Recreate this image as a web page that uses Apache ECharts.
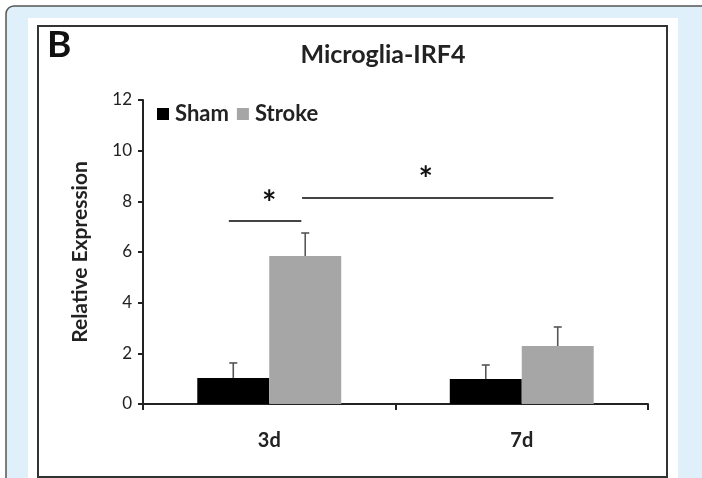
<!DOCTYPE html>
<html>
<head>
<meta charset="utf-8">
<script src="https://cdn.jsdelivr.net/npm/echarts@6/dist/echarts.min.js"></script>
<style>
  html, body { margin: 0; padding: 0; background: #fff; }
  #chart { width: 702px; height: 478px; }
</style>
</head>
<body>
<div id="chart"></div>
<script>
const categories = ["3d", "7d"];
const shamValues = [1.03, 0.99];
const shamErrTop = [1.62, 1.54];
const strokeValues = [5.84, 2.29];
const strokeErrTop = [6.75, 3.04];
const yTicks = { min: 0, max: 12, interval: 2 };
// significance brackets: [from, to, height] in category units (0 = 3d, 1 = 7d)
const sigLines = [
  [-0.16, 0.127, 7.22],
  [0.13, 1.125, 8.13],
];
const sigStars = [
  [0, 7.9, "*"],
  [0.62, 8.85, "*"],
];

const BAR_PCT = 0.285;
const font = "Lato, 'Open Sans', sans-serif";

const chart = echarts.init(document.getElementById("chart"));

function errorBarSeries(name, values, tops, side) {
  return {
    type: "custom",
    name: name + "-err",
    z: 3,
    data: values.map((v, i) => [i, v, tops[i]]),
    renderItem: (params, api) => {
      const bw = api.size([1, 0])[0] * BAR_PCT;
      const base = api.coord([api.value(0), api.value(1)]);
      const top = api.coord([api.value(0), api.value(2)]);
      const x = base[0] + side * bw / 2;
      const style = { stroke: "#555", lineWidth: 1.6 };
      return {
        type: "group",
        children: [
          { type: "line", shape: { x1: x, y1: base[1], x2: x, y2: top[1] }, style },
          { type: "line", shape: { x1: x - 4, y1: top[1], x2: x + 4, y2: top[1] }, style },
        ],
      };
    },
  };
}

chart.setOption({
  backgroundColor: "#ffffff",
  animation: false,
  graphic: [
    {
      type: "rect", z: -10,
      shape: { x: 6, y: 6, width: 720, height: 500, r: 8 },
      style: { fill: "#dff0fa", stroke: "#555", lineWidth: 1.5 },
    },
    {
      type: "rect", z: -9,
      shape: { x: 28, y: 18, width: 650, height: 470 },
      style: { fill: "#ffffff" },
    },
    {
      type: "rect", z: -8,
      shape: { x: 38, y: 26, width: 629, height: 451 },
      style: { fill: "none", stroke: "#333", lineWidth: 2 },
    },
    {
      type: "text", z: 10, left: 47, top: 27,
      style: { text: "B", fontSize: 37, fontWeight: "bold", fontFamily: font, fill: "#111" },
    },
  ],
  title: {
    text: "Microglia-IRF4",
    left: 378,
    top: 37,
    textAlign: "center",
    textStyle: { fontSize: 25, fontWeight: "bold", fontFamily: font, color: "#222" },
  },
  legend: {
    left: 152,
    top: 98,
    icon: "rect",
    itemWidth: 12,
    itemHeight: 12,
    itemGap: 8,
    data: ["Sham", "Stroke"],
    textStyle: { fontSize: 22, fontWeight: "bold", fontFamily: font, color: "#222", padding: [0, 0, 0, 1] },
  },
  grid: { left: 143, right: 54, top: 100, bottom: 74 },
  xAxis: [
    {
      type: "category",
      data: categories,
      axisLine: { lineStyle: { color: "#222", width: 2 } },
      axisTick: { show: true, length: 6, lineStyle: { color: "#222", width: 2 } },
      axisLabel: { fontSize: 20, fontWeight: "bold", fontFamily: font, color: "#222", margin: 27 },
    },
    { type: "value", min: -0.5, max: 1.5, show: false },
  ],
  yAxis: {
    type: "value",
    min: yTicks.min,
    max: yTicks.max,
    interval: yTicks.interval,
    name: "Relative Expression",
    nameLocation: "middle",
    nameRotate: 90,
    nameGap: 52,
    nameTextStyle: { fontSize: 21, fontWeight: "bold", fontFamily: font, color: "#222" },
    axisLine: { show: true, onZero: false, lineStyle: { color: "#222", width: 2 } },
    axisTick: { show: true, length: 5, lineStyle: { color: "#222", width: 2 } },
    axisLabel: { fontSize: 17, fontFamily: font, color: "#222", margin: 11 },
    splitLine: { show: false },
  },
  series: [
    {
      name: "Sham", type: "bar", data: shamValues,
      barWidth: BAR_PCT * 100 + "%", barGap: "0%",
      itemStyle: { color: "#000000" },
    },
    {
      name: "Stroke", type: "bar", data: strokeValues,
      barWidth: BAR_PCT * 100 + "%", barGap: "0%",
      itemStyle: { color: "#a6a6a6" },
    },
    errorBarSeries("Sham", shamValues, shamErrTop, -1),
    errorBarSeries("Stroke", strokeValues, strokeErrTop, 1),
    {
      type: "custom",
      xAxisIndex: 1,
      data: sigLines,
      renderItem: (params, api) => {
        const a = api.coord([api.value(0), api.value(2)]);
        const b = api.coord([api.value(1), api.value(2)]);
        return {
          type: "line",
          shape: { x1: a[0], y1: a[1], x2: b[0], y2: b[1] },
          style: { stroke: "#444", lineWidth: 2 },
        };
      },
    },
    {
      type: "custom",
      xAxisIndex: 1,
      data: sigStars,
      renderItem: (params, api) => {
        const p = api.coord([api.value(0), api.value(1)]);
        return {
          type: "text",
          x: p[0], y: p[1],
          style: {
            text: sigStars[params.dataIndex][2],
            fontSize: 34, fontWeight: "bold", fontFamily: font, fill: "#111",
            align: "center", verticalAlign: "middle",
          },
        };
      },
    },
  ],
});
</script>
</body>
</html>
